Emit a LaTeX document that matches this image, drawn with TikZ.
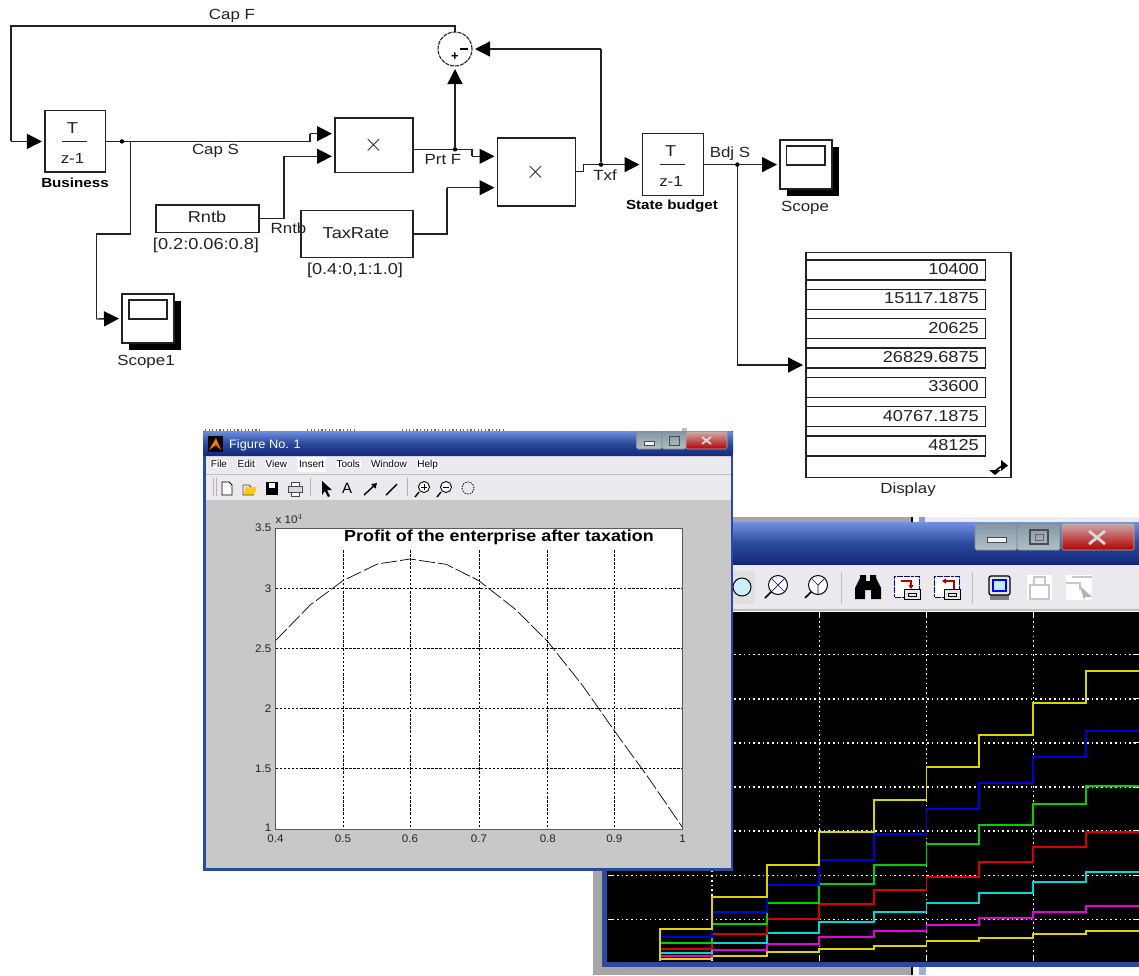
\documentclass[tikz,border=0pt]{standalone}
\usepackage{fontspec}
\usetikzlibrary{arrows.meta}
\setmainfont{Liberation Sans}
\newfontfamily\lblfont[FakeStretch=1.15]{Liberation Sans}
\newfontfamily\bldfont[FakeStretch=1.15]{Liberation Sans}
\newfontfamily\ttlfont[FakeStretch=1.12]{Liberation Sans}
\newfontfamily\tickfont[FakeStretch=1.05]{Liberation Sans}
\definecolor{ink}{HTML}{222222}
\definecolor{wingray}{HTML}{C8C8C8}
\definecolor{barbg}{HTML}{ECE9EE}
\definecolor{winblue}{HTML}{2A4A9C}
\definecolor{navy}{HTML}{14287C}
\definecolor{skyblue}{HTML}{6F8FE0}
\definecolor{btntop}{HTML}{8498A6}
\definecolor{btnbot}{HTML}{B2C0C6}
\definecolor{stairyel}{HTML}{DCD400}
\definecolor{stairblue}{HTML}{0000D8}
\definecolor{stairgreen}{HTML}{00D000}
\definecolor{stairred}{HTML}{D80000}
\definecolor{staircyan}{HTML}{00D8D8}
\definecolor{stairmag}{HTML}{E000E0}
\tikzset{
  blk/.style={draw=ink,line width=1.4pt,fill=white,inner sep=0pt,outer sep=0pt},
  sig/.style={draw=ink,line width=1.4pt,-{Triangle[length=15pt,width=15pt,color=black]},shorten >=3pt},
  wire/.style={draw=ink,line width=1.4pt},
  lbl/.style={inner sep=0pt,text=ink,font=\lblfont\fontsize{14.7}{14.7}\selectfont},
  vallbl/.style={inner sep=0pt,text=ink,font=\lblfont\fontsize{15.8}{15.8}\selectfont},
  bld/.style={inner sep=0pt,text=black,font=\bldfont\bfseries\fontsize{13.2}{13.2}\selectfont},
  tick/.style={inner sep=0pt,text=ink,font=\tickfont\fontsize{11}{11}\selectfont},
  menu/.style={inner sep=.6pt,fill=white,anchor=base,text=black,font=\fontsize{10}{10}\selectfont},
  dot/.style={circle,fill=black,inner sep=0pt,minimum size=4.5pt},
  gridln/.style={draw=black,line width=.8pt,dash pattern=on 2.5pt off 1.6pt},
  dotgrid/.style={draw=white,line width=1.6pt,dash pattern=on 1.6pt off 3.1pt},
  stairline/.style={line width=1.8pt,line join=miter},
  greybtn/.style={draw=black!45,line width=.6pt,rounded corners=1.5pt,top color=btntop,bottom color=btnbot},
  redbtn/.style={draw=black!30,line width=.6pt,rounded corners=1.5pt,top color=red!45!black!35!white,bottom color=red!70!black},
}
\newcommand{\stair}[2]{\draw[stairline,#1] (659.7,961)
  \foreach \xa/\xb [count=\i] in {659.7/712.2,712.2/766.8,766.8/819.3,819.3/873.6,873.6/926.5,926.5/979,979/1033.3,1033.3/1086,1086/1139}
  { -- (\xa,{{#2}[\i-1]}) -- (\xb,{{#2}[\i-1]}) };}
\newcommand{\lens}[2]{\draw[black,line width=1.6pt] (#1-4,#2+4) -- (#1-11,#2+11);
  \draw[black,line width=1pt,fill=white] (#1+2,#2-2) circle (9.5pt);}
\begin{document}
\begin{tikzpicture}[x=1pt,y=-1pt]
\useasboundingbox (0,0) rectangle (1139,975);
\fill[white] (0,0) rectangle (1139,975);
\begin{scope}
\clip (0,0) rectangle (1139,975);
% ---------- window behind the figure
\fill[black] (910.7,517) rectangle (912.5,522);
\fill[black!35] (733,517) rectangle (910.7,522);
\fill[black!7] (925,517) rectangle (1139,522);
\fill[winblue!55!white] (919,517) rectangle (925,522);
\fill[black!35] (593,860) rectangle (911,975);
\fill[black] (911,967) rectangle (913,975);
\fill[winblue!45!white] (919,967) rectangle (926,975);
\fill[winblue] (602,860) rectangle (1139,966.7);
\fill[black] (607,612) rectangle (1139,961.5);
\shade[top color=skyblue,bottom color=navy,middle color=winblue] (733,522.5) rectangle (1139,564);
\fill[barbg] (733,565) rectangle (1139,608.5);
\draw[black!25,line width=1.4pt] (733,610) -- (1139,610);
\path[greybtn] (975,524) -- (1017,524) -- (1017,550) -- (975,550) -- cycle;
\path[greybtn] (1017,524) -- (1060,524) -- (1060,550) -- (1017,550) -- cycle;
\path[redbtn] (1062,524) -- (1134,524) -- (1134,550) -- (1062,550) -- cycle;
\draw[black!70,fill=black!5,line width=.8pt] (987,537) rectangle (1006,542);
\draw[black!70,line width=1.2pt] (1030,530) rectangle (1048,544);
\draw[black!60,line width=1pt] (1035,534) rectangle (1043,540);
\draw[white!85!black,line width=2.8pt] (1089,531) -- (1105,544) (1105,531) -- (1089,544);
% back toolbar
\fill[black!12] (733,571) rectangle (755,604);
\draw[black,fill=cyan!20,line width=1pt] (742,587) circle (9pt);
\begin{scope}[shift={(776,587)}]
  \lens{0}{0} \draw[blue!70!black,line width=.7pt] (-4,-8) -- (8,4) (8,-8) -- (-4,4);
\end{scope}
\begin{scope}[shift={(816,587)}]
  \lens{0}{0} \draw[blue!70!black,line width=.7pt] (2,-2) -- (-4,-8) (2,-2) -- (8,-8) (2,-2) -- (2,7);
\end{scope}
\draw[black!25,line width=1pt] (841,572) -- (841,604);
\fill[black] (855,599) -- (855,588) -- (860,578) -- (860,575) -- (866,575) -- (866,581) -- (870,581) -- (870,575) -- (876,575) -- (876,578) -- (881,588) -- (881,599) -- (871,599) -- (871,590) -- (865,590) -- (865,599) -- cycle;
\foreach \cx in {907,947}{
  \draw[blue!70!black,fill=white,line width=.9pt,dash pattern=on 3pt off .6pt] (\cx-13,576) rectangle (\cx+12,597);
  \draw[black,fill=black!10,line width=1pt] (\cx-3,589) rectangle (\cx+13,599);
  \draw[black,line width=.7pt] (\cx+1,593) rectangle (\cx+9,596);
}
\draw[red!70!black,line width=1.1pt,-{Triangle[length=4pt,width=5pt]}] (901,581) -- (911,581) -- (911,589);
\draw[red!70!black,line width=1.1pt,-{Triangle[length=4pt,width=5pt]}] (954,589) -- (954,581) -- (942,581);
\draw[black!25,line width=1pt] (972,572) -- (972,604);
\fill[black!50] (990,594) rectangle (1009,600);
\draw[black,fill=black!10,line width=1.2pt,rounded corners=2pt] (989,576) rectangle (1010,595);
\draw[blue,fill=cyan!25,line width=1.3pt] (993,580) rectangle (1006,591);
\fill[white] (1027,575) rectangle (1052,600);
\draw[black!22,line width=1.2pt,fill=white] (1030,585) rectangle (1049,599);
\draw[black!22,line width=1.2pt] (1034,585) -- (1034,577) -- (1045,577) -- (1045,585);
\fill[white] (1066,575) rectangle (1092,600);
\draw[black!22,line width=2pt] (1066,583) -- (1080,583) -- (1080,590) (1072,577) -- (1092,577);
\fill[black!30] (1080,586) -- (1092,597) -- (1085,597) -- (1084,600) -- cycle;
% scope grid
\foreach \g in {712.2,819.3,926.5,1033.3}{
  \draw[dotgrid] (\g,612) -- (\g,961);
  \draw[white,line width=1.4pt] (\g,612) -- (\g,617) (\g,956) -- (\g,961);}
\foreach \g in {654.3,698.7,742.7,787,831,875.3,919.3}{
  \draw[dotgrid] (607.5,\g) -- (1139,\g);
  \draw[white,line width=1.4pt] (608,\g) -- (613,\g) (1133,\g) -- (1139,\g);}
\stair{stairyel}{959,956,951.7,948.7,945.7,941.3,938.3,934,931}
\stair{stairmag}{956,950,944,936.7,930.7,924.7,917.7,911.7,906}
\stair{staircyan}{953.3,942.7,932.7,922.3,912,903,892.7,882.3,872}
\stair{stairred}{948.7,934,919.3,904.3,889.7,876.7,861.7,847,832.3}
\stair{stairgreen}{942.7,923.7,903,884,864.7,844,825,804.3,785.7}
\stair{stairblue}{936.7,912,885.3,860.3,834,808.7,782.7,757,730.7}
\stair{stairyel}{929.3,897,864.7,832,799.7,767.3,735.3,702.7,670.7}
% ---------- figure window
\foreach \a/\b in {205/260,307/357,402/505}{
  \draw[black!60,line width=2.6pt,dash pattern=on 1.2pt off 2.4pt] (\a,429.8) -- (\b,429.8);}
\fill[black!25] (682,428) rectangle (687,431);
\fill[winblue] (203,431) rectangle (733,871);
\fill[wingray] (206,500) rectangle (730.5,867.5);
\fill[barbg] (206,456) rectangle (730.5,500);
\draw[black!25,line width=.7pt] (206,474) -- (730.5,474);
\shade[top color=skyblue,bottom color=navy,middle color=winblue,rounded corners=2pt] (203,431) rectangle (733,456);
\path[greybtn] (636.5,432) -- (662,432) -- (662,449) -- (636.5,449) -- cycle;
\path[greybtn] (662,432) -- (686,432) -- (686,449) -- (662,449) -- cycle;
\path[redbtn] (686,432) -- (727,432) -- (727,449) -- (686,449) -- cycle;
\draw[black!70,fill=black!5,line width=.6pt] (644,441) rectangle (654,445);
\draw[black!70,line width=.8pt] (669,436) rectangle (679,445);
\draw[white!85!black,line width=1.8pt] (702,437) -- (711,444) (711,437) -- (702,444);
\fill[black] (208,436) rectangle (223,452);
\fill[orange!90!red] (209,450) -- (216,438) -- (221,450) -- (216,445) -- cycle;
\node[inner sep=0pt,text=white,font=\tickfont\fontsize{12.2}{12.2}\selectfont] (figtitle) at (265,445) {Figure No. 1};
\fill[white] (297,457) rectangle (326,472);
\node[menu] (mfile) at (219,467.5) {File};
\node[menu] (medit) at (246.3,467.5) {Edit};
\node[menu] (mview) at (276.3,467.5) {View};
\node[menu] (minsert) at (311.7,467.5) {Insert};
\node[menu] (mtools) at (348.3,467.5) {Tools};
\node[menu] (mwindow) at (389,467.5) {Window};
\node[menu] (mhelp) at (427.7,467.5) {Help};
% figure toolbar
\draw[black!30,line width=1pt] (213,478) -- (213,496) (216,478) -- (216,496) (310,478) -- (310,496) (407,478) -- (407,496);
\draw[black,fill=white,line width=.9pt] (222,482) -- (229,482) -- (232,485) -- (232,495) -- (222,495) -- cycle;
\fill[yellow!65!orange] (243,495) -- (246,487) -- (257,487) -- (254,495) -- cycle;
\draw[black!70,line width=.8pt] (243,495) -- (243,485) -- (249,485) -- (251,487) (243,495) -- (254,495);
\fill[black] (266,482) rectangle (278,495);
\fill[white] (269,483) rectangle (275,488);
\draw[black!70,fill=black!15,line width=.8pt] (288,486) rectangle (302,492);
\draw[black!70,fill=white,line width=.7pt] (291,482) rectangle (299,486) (291,492) rectangle (299,496);
\fill[black] (322,481) -- (322,495) -- (325,491) -- (328,497) -- (330,496) -- (327,490) -- (332,490) -- cycle;
\node[inner sep=0pt,text=black,font=\fontsize{15}{15}\selectfont] (figA) at (347,488.5) {A};
\draw[black,line width=1.4pt,-{Triangle[length=5pt,width=6pt]}] (364,495) -- (377,483);
\draw[black,line width=1.4pt] (386,495) -- (397,484);
\foreach \cx in {423,445}{
  \draw[black,line width=1.4pt] (\cx-4,492) -- (\cx-8,497);
  \draw[black,fill=white,line width=.9pt] (\cx+1,487) circle (5.5pt);
  \draw[black,line width=.9pt] (\cx-2,487) -- (\cx+4,487);
}
\draw[black,line width=.9pt] (424,484) -- (424,490);
\draw[black,line width=.8pt,dash pattern=on 1.5pt off 1.2pt] (468,488) circle (6pt);
% axes
\fill[white] (275.4,528) rectangle (682.8,829);
\foreach \g in {342.9,410,478.9,547.8,614.3}{\draw[gridln] (\g,550) -- (\g,829);}
\foreach \g in {528,588.3,648.3,708.7,768.3}{\draw[gridln] (275.4,\g) -- (682.8,\g);}
\fill[white] (341,529) rectangle (655,549.5);
\draw[black,line width=.7pt,dash pattern=on 16pt off 3pt,line join=round] (275.4,640.7) -- (310.2,605) -- (342.9,580.7) -- (377.3,564) -- (410,559) -- (446.2,564.3) -- (478.9,580.7) -- (515,609) -- (547.8,641.7) -- (582.2,685) -- (615,731.7) -- (647.7,776.7) -- (682,826.7);
\draw[black!65,line width=1pt] (275.4,528) rectangle (682.8,829);
\node[inner sep=0pt,text=black,font=\ttlfont\bfseries\fontsize{16}{16}\selectfont] (plottitle) at (499,537.5) {Profit of the enterprise after taxation};
\node[tick,anchor=east] (y35) at (271.5,528) {3.5};
\node[tick,anchor=east] (y30) at (271.5,588.3) {3};
\node[tick,anchor=east] (y25) at (271.5,648.3) {2.5};
\node[tick,anchor=east] (y20) at (271.5,708.7) {2};
\node[tick,anchor=east] (y15) at (271.5,768.3) {1.5};
\node[tick,anchor=east] (y10) at (271.5,828) {1};
\node[tick] (x04) at (275.4,838.5) {0.4};
\node[tick] (x05) at (342.9,838.5) {0.5};
\node[tick] (x06) at (410,838.5) {0.6};
\node[tick] (x07) at (478.9,838.5) {0.7};
\node[tick] (x08) at (547.8,838.5) {0.8};
\node[tick] (x09) at (614.3,838.5) {0.9};
\node[tick] (x10) at (682.5,838.5) {1};
\node[tick,anchor=west] (xexp) at (275.5,519) {x 10$^{\scriptstyle 4}$};
% ---------- block diagram
\node[blk,minimum width=60.5pt,minimum height=61.5pt] (business) at (75.2,141.4) {};
\node[vallbl] (bT) at (72.5,128) {T};
\node[lbl] (bz) at (72.5,158) {z-1};
\draw[wire,line width=1pt] ([xshift=-13pt]business.center) -- ([xshift=12pt]business.center);
\node[bld] (busl) at (75,182.5) {Business};
\node[blk,minimum width=78pt,minimum height=54.5pt] (mul1) at (374,145.2) {};
\node[inner sep=0pt,text=ink,font=\fontsize{24}{24}\selectfont] (m1x) at (373.5,145) {$\times$};
\node[blk,minimum width=78pt,minimum height=68pt] (mul2) at (536.5,172) {};
\node[inner sep=0pt,text=ink,font=\fontsize{24}{24}\selectfont] (m2x) at (535.6,172.7) {$\times$};
\node[blk,minimum width=103pt,minimum height=27.5pt] (rntb) at (207.5,218.7) {};
\node[vallbl] (rntbt) at (207,217) {Rntb};
\node[vallbl] (rntbr) at (206,245) {[0.2:0.06:0.8]};
\node[blk,minimum width=112pt,minimum height=46.5pt] (tax) at (357,234) {};
\node[vallbl] (taxt) at (356,233) {TaxRate};
\node[vallbl] (taxr) at (355,270) {[0.4:0,1:1.0]};
\node[lbl] (rntbs) at (288.5,228) {Rntb};
\node[blk,minimum width=61pt,minimum height=62pt] (state) at (673,164.6) {};
\node[vallbl] (sT) at (670.7,151.3) {T};
\node[lbl] (sz) at (671,181) {z-1};
\draw[wire,line width=1pt] ([xshift=-13pt]state.center) -- ([xshift=12pt]state.center);
\node[bld] (statel) at (672,206) {State budget};
\node[circle,draw=ink,line width=1.1pt,dash pattern=on 4pt off 1pt,fill=white,minimum size=34pt,inner sep=0pt,outer sep=0pt] (sum) at (455,49) {};
\draw[black,line width=1.2pt] (460,49) -- (468,49);
\node[inner sep=0pt,font=\bfseries\fontsize{13}{13}\selectfont] (sump) at (455,57) {+};
% scopes
\fill[black] (129,301) rectangle (181,350);
\node[blk,minimum width=52pt,minimum height=49pt] (scope1) at (148,318.5) {};
\draw[ink,line width=1.3pt] (129,300) rectangle (167,319);
\node[lbl] (scope1l) at (146,362) {Scope1};
\fill[black] (787,147) rectangle (839,196);
\node[blk,minimum width=52pt,minimum height=49pt] (scope) at (806,164.6) {};
\draw[ink,line width=1.3pt] (786.7,146) rectangle (825,165);
\node[lbl] (scopel) at (805,208) {Scope};
% display
\node[blk,minimum width=205pt,minimum height=225.4pt] (display) at (908.5,365) {};
\foreach \yy/\vv [count=\k] in {270/10400,299.3/15117.1875,328.7/20625,358/26829.6875,387.3/33600,416.7/40767.1875,446/48125}{
  \node[blk,line width=1.3pt,minimum width=179.5pt,minimum height=20pt] (row\k) at (895.8,\yy) {};
  \node[vallbl,anchor=east] (val\k) at (979,\yy-1) {\vv};
}
\node[lbl] (displ) at (908,490) {Display};
\fill[black] (989,470) -- (1001,470) -- (995,475) -- cycle;
\fill[black] (1001,460) -- (1008,465.5) -- (1001,471) -- cycle;
\draw[black,line width=1.6pt] (995,471) -- (1003,465);
% connectors
\coordinate (cf1) at (455,26);
\coordinate (cf2) at (11,26);
\coordinate (cf3) at (11,141.4);
\draw[wire] (sum.north) -- (cf1) -- (cf2) -- (cf3);
\draw[sig] (cf3) -- (business.west);
\node[lbl] (capf) at (232,16) {Cap F};
\coordinate (cs1) at (310,141.4);
\coordinate (cs2) at (310,133.7);
\coordinate (cs3) at (335,133.7);
\draw[wire] (business.east) -- (cs1) -- (cs2);
\draw[sig] (cs2) -- (cs3);
\node[dot] (j1) at (122,141.4) {};
\node[lbl] (caps) at (215.5,151) {Cap S};
\coordinate (b1) at (130.5,141.4);
\coordinate (b2) at (130.5,234);
\coordinate (b3) at (96.4,234);
\coordinate (b4) at (96.4,319);
\draw[wire] (b1) -- (b2) -- (b3) -- (b4);
\draw[sig] (b4) -- (scope1.west);
\coordinate (r1) at (284,218.7);
\coordinate (r2) at (284,156.3);
\coordinate (r3) at (335,156.3);
\draw[wire] (rntb.east) -- (r1) -- (r2);
\draw[sig] (r2) -- (r3);
\coordinate (t1) at (447,234);
\coordinate (t2) at (447,187.7);
\coordinate (t3) at (497.5,187.7);
\draw[wire] (tax.east) -- (t1) -- (t2);
\draw[sig] (t2) -- (t3);
\coordinate (p0) at (413,149.3);
\coordinate (p1) at (472,149.3);
\coordinate (p2) at (472,156.3);
\coordinate (p3) at (497.5,156.3);
\draw[wire] (p0) -- (p1) -- (p2);
\draw[sig] (p2) -- (p3);
\node[dot] (j2) at (455,149.3) {};
\draw[sig] (j2) -- (sum.south);
\node[lbl] (prtf) at (443,159) {Prt F};
\coordinate (x0) at (575.5,171.7);
\coordinate (x1) at (583.4,171.7);
\coordinate (x2) at (583.4,164.6);
\draw[wire] (x0) -- (x1) -- (x2);
\draw[sig] (x2) -- (state.west);
\node[dot] (j3) at (601,164.6) {};
\coordinate (x3) at (601,49);
\draw[wire] (j3) -- (x3);
\draw[sig] (x3) -- (sum.east);
\node[lbl] (txf) at (605,175) {Txf};
\node[lbl] (bdjs) at (730,154) {Bdj S};
\draw[sig] (state.east) -- (scope.west);
\node[dot] (j4) at (737.3,164.6) {};
\coordinate (d1) at (737.3,365);
\draw[wire] (j4) -- (d1);
\draw[sig] (d1) -- (display.west);
\end{scope}
\end{tikzpicture}
\end{document}
